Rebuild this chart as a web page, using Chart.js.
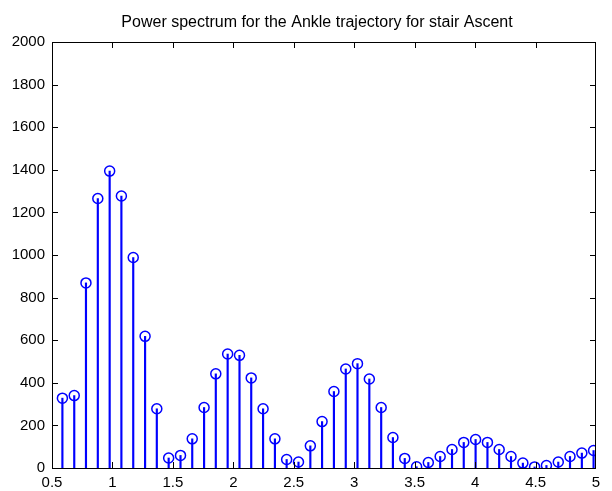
<!DOCTYPE html>
<html>
<head>
<meta charset="utf-8">
<script src="https://cdn.jsdelivr.net/npm/chart.js@4"></script>
<style>
  body { margin: 0; background: #fff; }
  #wrap { width: 612px; height: 491px; }
</style>
</head>
<body>
<div id="wrap"><canvas id="plot1" width="612" height="491"></canvas></div>
<script>
// frequency bins (Hz)
const frecuencias = [0.586, 0.684, 0.781, 0.879, 0.977, 1.074, 1.172, 1.270, 1.367, 1.465,
  1.563, 1.660, 1.758, 1.855, 1.953, 2.051, 2.148, 2.246, 2.344, 2.441,
  2.539, 2.637, 2.734, 2.832, 2.930, 3.027, 3.125, 3.223, 3.320, 3.418,
  3.516, 3.613, 3.711, 3.809, 3.906, 4.004, 4.102, 4.199, 4.297, 4.395,
  4.492, 4.590, 4.688, 4.785, 4.883, 4.980];

// power for each bin
const potencia = [328, 340, 869, 1265, 1394, 1277, 988, 618, 278, 47,
  59, 137, 284, 442, 535, 529, 423, 278, 137, 40,
  28, 104, 218, 359, 465, 490, 418, 284, 143, 45,
  6, 26, 54, 87, 120, 134, 120, 87, 54, 23,
  5, 12, 28, 54, 70, 82];

const xTicks = [0.5, 1, 1.5, 2, 2.5, 3, 3.5, 4, 4.5, 5];
const yTicks = [0, 200, 400, 600, 800, 1000, 1200, 1400, 1600, 1800, 2000];

const titulo = 'Power spectrum for the Ankle trajectory for stair Ascent';

let puntos = frecuencias.map((f, i) => ({x: f, y: potencia[i]}));

const familia = "'Liberation Sans', Arial, sans-serif";
const fuente = {family: familia, size: 15};

// box round the axes with inward ticks on all four sides, plus the title
const cajaEjes = {
  id: 'cajaEjes',
  afterDraw(chart) {
    const {ctx, chartArea: a, scales} = chart;
    const largo = 6;
    ctx.save();
    ctx.strokeStyle = '#000';
    ctx.lineWidth = 1;
    ctx.strokeRect(a.left + 0.5, a.top + 0.5, a.right - a.left - 1, a.bottom - a.top);
    ctx.beginPath();
    xTicks.slice(1, -1).forEach(v => {
      const px = Math.round(scales.x.getPixelForValue(v)) + 0.5;
      ctx.moveTo(px, a.bottom); ctx.lineTo(px, a.bottom - largo);
      ctx.moveTo(px, a.top); ctx.lineTo(px, a.top + largo);
    });
    yTicks.slice(1, -1).forEach(v => {
      const py = Math.round(scales.y.getPixelForValue(v)) + 0.5;
      ctx.moveTo(a.left, py); ctx.lineTo(a.left + largo, py);
      ctx.moveTo(a.right, py); ctx.lineTo(a.right - largo, py);
    });
    ctx.stroke();

    ctx.fillStyle = '#000';
    ctx.font = '16px ' + familia;
    ctx.textAlign = 'center';
    ctx.textBaseline = 'middle';
    ctx.fillText(titulo, 317, 23);
    ctx.restore();
  }
};

let config = {
  type: 'bar',
  data: {
    datasets: [
      {
        // stems
        type: 'bar',
        data: puntos,
        backgroundColor: '#0000ff',
        barThickness: 1.5,
        borderWidth: 0,
        order: 2
      },
      {
        // open circle markers
        type: 'line',
        data: puntos,
        showLine: false,
        pointStyle: 'circle',
        pointRadius: 5,
        pointBorderWidth: 1.5,
        pointBorderColor: '#0000ff',
        pointBackgroundColor: 'rgba(0,0,0,0)',
        order: 1
      }
    ]
  },
  options: {
    responsive: false,
    animation: false,
    layout: {padding: {left: 0, right: 16, top: 42, bottom: 0}},
    plugins: {
      legend: {display: false},
      tooltip: {enabled: false},
      title: {display: false}
    },
    scales: {
      x: {
        type: 'linear',
        min: 0.5,
        max: 5,
        offset: false,
        grid: {display: false, drawTicks: false, tickLength: 0},
        border: {display: false},
        afterBuildTicks: s => { s.ticks = xTicks.map(v => ({value: v})); },
        afterFit: s => { s.height = 23; },
        ticks: {color: '#000', font: fuente, padding: 6, maxRotation: 0, autoSkip: false,
          callback: v => String(v)}
      },
      y: {
        min: 0,
        max: 2000,
        grid: {display: false, drawTicks: false, tickLength: 0},
        border: {display: false},
        afterBuildTicks: s => { s.ticks = yTicks.map(v => ({value: v})); },
        afterFit: s => { s.width = 52; },
        ticks: {color: '#000', font: fuente, padding: 7, callback: v => String(v)}
      }
    }
  },
  plugins: [cajaEjes]
};

let chart1 = new Chart(document.getElementById('plot1'), config);
</script>
</body>
</html>
